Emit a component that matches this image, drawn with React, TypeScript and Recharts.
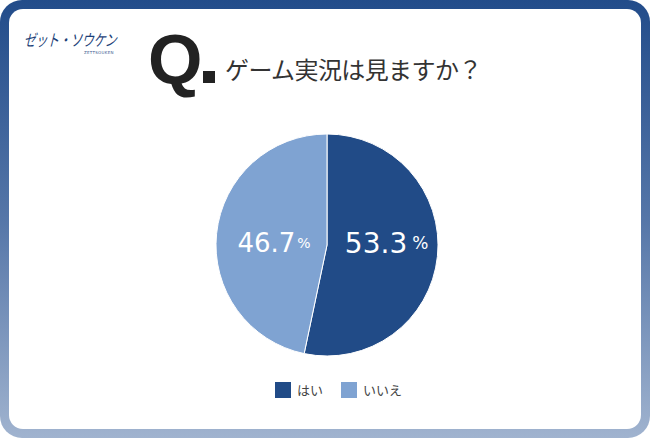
import { PieChart, Pie, Cell, Legend } from "recharts";

const answers = ["はい", "いいえ"];
const shares = [53.3, 46.7];
const sliceColors = ["#214b87", "#7fa3d2"];

const data = answers.map((name, i) => ({ name, value: shares[i] }));

const W = 650;
const H = 438;
const CX = 327;
const CY = 245;
const R = 111;
const RAD = Math.PI / 180;

const font = "'Noto Sans CJK JP', 'Noto Sans', sans-serif";

// the big slice gets a slightly bigger label, as in the source image
const labelStyle = [
  { r: 0.54, num: 28, pct: 17, dx: 5 },
  { r: 0.48, num: 26, pct: 14, dx: 2 },
];

function SliceLabel(props: any) {
  const { cx, cy, midAngle, outerRadius, value, index } = props;
  const s = labelStyle[index] || labelStyle[0];
  const x = cx + outerRadius * s.r * Math.cos(-midAngle * RAD);
  return (
    <text x={x} y={cy - 2} fill="#fff" textAnchor="middle" dominantBaseline="central" fontFamily="'DejaVu Sans', sans-serif">
      <tspan fontSize={s.num}>{value.toFixed(1)}</tspan>
      <tspan fontSize={s.pct} dx={s.dx}>%</tspan>
    </text>
  );
}

function LegendBox() {
  return (
    <div style={{ display: "flex", paddingLeft: 275, gap: 18, fontFamily: font, fontSize: 13, color: "#444" }}>
      {data.map((d, i) => (
        <div key={d.name} style={{ display: "flex", alignItems: "center" }}>
          <span style={{ width: 16, height: 16, background: sliceColors[i], display: "inline-block", marginRight: 6 }} />
          <span>{d.name}</span>
        </div>
      ))}
    </div>
  );
}

export default function App() {
  return (
    <div style={{ position: "absolute", left: 0, top: 0, width: W, height: H }}>
      <div
        style={{
          position: "absolute",
          left: 0,
          top: 0,
          width: W,
          height: H,
          borderRadius: 22,
          background: "linear-gradient(180deg, #224c8a 0%, #5576a8 50%, #a0b3cf 100%)",
        }}
      />
      <div
        style={{
          position: "absolute",
          left: 9,
          top: 9,
          width: W - 18,
          height: H - 18,
          borderRadius: 14,
          background: "#fff",
        }}
      />
      <div
        style={{
          position: "absolute",
          left: 28,
          top: 28,
          fontFamily: font,
          fontSize: 12,
          color: "#1d3f78",
          letterSpacing: -0.4,
          lineHeight: "16px",
          transform: "skewX(-14deg) scaleY(1.35)",
          transformOrigin: "left top",
        }}
      >
        ゼット・ソウケン
      </div>
      <div style={{ position: "absolute", left: 84, top: 50, fontFamily: "'DejaVu Sans', sans-serif", fontSize: 4, color: "#3a5a90", letterSpacing: 0.3 }}>
        ZETTSOUKEN
      </div>
      <div style={{ position: "absolute", left: 148, top: 20, fontFamily: "'Liberation Sans', Arial, sans-serif", fontWeight: 700, fontSize: 70, color: "#222", lineHeight: "80px" }}>
        Q
      </div>
      <div style={{ position: "absolute", left: 203, top: 71, width: 12, height: 12, background: "#222" }} />
      <div style={{ position: "absolute", left: 225, top: 53, fontFamily: font, fontSize: 24, letterSpacing: -0.6, color: "#333", lineHeight: "32px" }}>
        ゲーム実況は見ますか？
      </div>
      <div style={{ position: "absolute", left: 0, top: 0 }}>
        <PieChart width={W} height={H} margin={{ top: 0, right: 0, bottom: 0, left: 0 }}>
          <Pie
            data={data}
            dataKey="value"
            nameKey="name"
            cx={CX}
            cy={CY}
            outerRadius={R}
            startAngle={90}
            endAngle={-270}
            stroke="#fff"
            strokeWidth={1}
            label={SliceLabel}
            labelLine={false}
            isAnimationActive={false}
          >
            {data.map((d, i) => (
              <Cell key={d.name} fill={sliceColors[i]} />
            ))}
          </Pie>
          <Legend content={<LegendBox />} wrapperStyle={{ left: 0, top: 380, width: W, height: 20 }} />
        </PieChart>
      </div>
    </div>
  );
}
